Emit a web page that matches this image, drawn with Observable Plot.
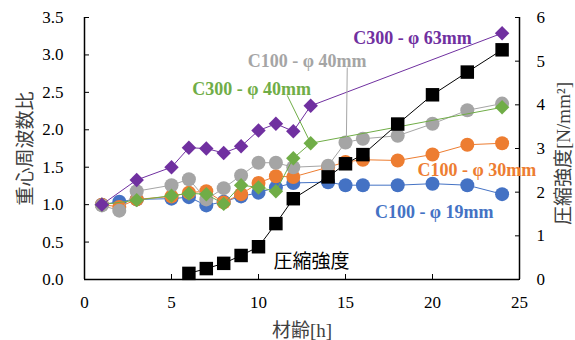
<!DOCTYPE html>
<html><head><meta charset="utf-8">
<script src="https://cdn.jsdelivr.net/npm/d3@7"></script>
<script src="https://cdn.jsdelivr.net/npm/@observablehq/plot@0.6"></script>
<style>body{margin:0;background:#fff}</style>
</head><body><div id="chart"></div><script>
// ---- data ----
const hoursC100 = [1,2,3,5,6,7,8,9,10,11,12,14,15,16,18,20,22,24];
const c100_19 = [1.00,1.04,1.07,1.08,1.10,0.99,1.04,1.11,1.16,1.23,1.29,1.30,1.26,1.26,1.26,1.28,1.26,1.14];
const c100_30 = [1.00,0.97,1.07,1.11,1.16,1.18,1.03,1.14,1.29,1.38,1.37,1.50,1.57,1.60,1.59,1.67,1.80,1.82];
const c100_40 = [0.99,0.92,1.18,1.26,1.34,1.07,1.22,1.39,1.56,1.56,1.50,1.52,1.83,1.88,1.92,2.08,2.26,2.35];
const hoursC300 = [1,3,5,6,7,8,9,10,11,12,13,24];
const c300_40 = [1.00,1.06,1.12,1.15,1.14,1.01,1.26,1.23,1.18,1.62,1.82,2.30];
const c300_63 = [1.00,1.33,1.50,1.76,1.75,1.69,1.78,1.99,2.08,1.98,2.32,3.29];
const hoursStrength = [6,7,8,9,10,11,12,14,15,16,18,20,22,24];
const strength = [0.14,0.25,0.37,0.55,0.75,1.28,1.85,2.35,2.65,2.86,3.56,4.23,4.75,5.26];
const xTicks = [0,5,10,15,20,25];
const yTicks = [0,0.5,1,1.5,2,2.5,3,3.5];
const y2Ticks = [0,1,2,3,4,5,6];
const seriesNames = ["C100 - φ 19mm","C100 - φ 30mm","C100 - φ 40mm","C300 - φ 40mm","C300 - φ 63mm"];
const seriesColors = ["#4472C4","#ED7D31","#A5A5A5","#70AD47","#7030A0"];
// label annotations (data coordinates)
const labelX = [20.1, 22.55, 12.8, 9.6, 18.85];
const labelY = [0.90, 1.46, 2.91, 2.54, 3.22];
const strengthLabel = "圧縮強度";
const leaders = [
  {x1:15.1, y1:2.83, x2:15.05, y2:1.85, c:"#A5A5A5"},
  {x1:11.65, y1:2.46, x2:13, y2:1.82, c:"#70AD47"}
];

// ---- build ----
const Y2MAX = 6, YMAX = 3.5;
const toY = s => s * YMAX / Y2MAX;
const seriesData = [
  hoursC100.map((h,i)=>({hour:h, value:c100_19[i]})),
  hoursC100.map((h,i)=>({hour:h, value:c100_30[i]})),
  hoursC100.map((h,i)=>({hour:h, value:c100_40[i]})),
  hoursC300.map((h,i)=>({hour:h, value:c300_40[i]})),
  hoursC300.map((h,i)=>({hour:h, value:c300_63[i]}))
];
const strengthData = hoursStrength.map((h,i)=>({hour:h, s:strength[i]}));
const labels = seriesNames.map((n,i)=>({name:n, x:labelX[i], y:labelY[i], c:seriesColors[i]}));

const serif = "'Liberation Serif','Noto Sans CJK JP',serif";
const marks = [
  Plot.ruleX([0], {stroke:"#000", strokeWidth:1.5}),
  Plot.ruleX([25], {stroke:"#000", strokeWidth:1.5}),
  Plot.ruleY([0], {stroke:"#000", strokeWidth:1.5}),
  Plot.axisX({ticks:xTicks, tickSize:0, tickPadding:16, label:null, fontSize:17}),
  Plot.axisX({ticks:[5,10,15,20], tickSize:-5, tickFormat:()=>"", label:null, stroke:"#000"}),
  Plot.axisY({ticks:yTicks, tickSize:0, tickPadding:21, tickFormat:d3.format(".1f"), label:null, fontSize:17}),
  Plot.axisY({ticks:yTicks, tickSize:-5, tickFormat:()=>"", label:null}),
  Plot.axisY({anchor:"right", ticks:y2Ticks.map(toY), tickSize:0, tickPadding:17, tickFormat:d=>Math.round(d*Y2MAX/YMAX), label:null, fontSize:17}),
  Plot.axisY({anchor:"right", ticks:y2Ticks.map(toY), tickSize:-5, tickFormat:()=>"", label:null})
];
// series: circles for C100, diamonds for C300
[0,1,2].forEach(i=>{
  marks.push(Plot.line(seriesData[i], {x:"hour", y:"value", stroke:seriesColors[i], strokeWidth:1}));
  marks.push(Plot.dot(seriesData[i], {x:"hour", y:"value", r:7, fill:seriesColors[i], symbol:"circle"}));
});
[3,4].forEach(i=>{
  marks.push(Plot.line(seriesData[i], {x:"hour", y:"value", stroke:seriesColors[i], strokeWidth:1}));
  marks.push(Plot.dot(seriesData[i], {x:"hour", y:"value", r:6.5, fill:seriesColors[i], symbol:"diamond2"}));
});
marks.push(Plot.line(strengthData, {x:"hour", y:d=>toY(d.s), stroke:"#000", strokeWidth:1}));
marks.push(Plot.dot(strengthData, {x:"hour", y:d=>toY(d.s), r:7.6, fill:"#000", symbol:"square"}));
// leaders and labels
marks.push(Plot.link(leaders, {x1:"x1", y1:"y1", x2:"x2", y2:"y2", stroke:"c", strokeWidth:1}));
marks.push(Plot.text(labels, {x:"x", y:"y", text:"name", fill:"c", fontSize:18, fontWeight:"bold", fontFamily:serif}));
marks.push(Plot.text([strengthLabel], {x:13.05, y:0.23, text:d=>d, fill:"#000", fontSize:19, fontFamily:"'Noto Sans CJK JP',sans-serif"}));
// axis titles
marks.push(Plot.text(["重心周波数比"], {frameAnchor:"left", dx:-59, rotate:-90, textAnchor:"middle", lineAnchor:"middle", text:d=>d, fill:"#404040", fontSize:19, fontFamily:"'Noto Sans CJK JP',sans-serif"}));
marks.push(Plot.text(["圧縮強度[N/mm²]"], {frameAnchor:"right", dx:44, dy:5, rotate:-90, textAnchor:"middle", lineAnchor:"middle", text:d=>d, fill:"#404040", fontSize:19, fontFamily:serif}));
marks.push(Plot.text(["材齢[h]"], {frameAnchor:"bottom", dy:51, textAnchor:"middle", lineAnchor:"middle", text:d=>d, fill:"#404040", fontSize:19, fontFamily:serif}));

const chart = Plot.plot({
  width:575, height:340,
  marginLeft:84, marginRight:56, marginTop:17, marginBottom:61,
  x:{domain:[0,25]},
  y:{domain:[0,YMAX]},
  style:{fontFamily:serif, fontSize:"17px", color:"#000", background:"#fff"},
  marks
});
document.getElementById("chart").appendChild(chart);
</script></body></html>
